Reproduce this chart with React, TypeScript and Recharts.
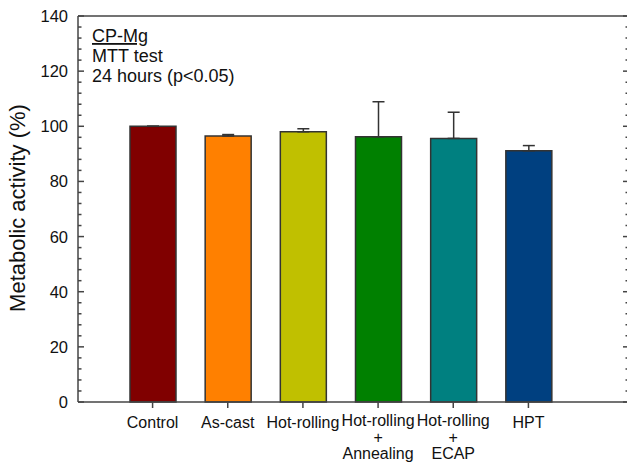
import { Bar, BarChart, Cell, ErrorBar, ReferenceLine, XAxis, YAxis } from "recharts";

const categories = [
  "Control",
  "As-cast",
  "Hot-rolling",
  "Hot-rolling\n+\nAnnealing",
  "Hot-rolling\n+\nECAP",
  "HPT",
];
const activity = [100, 96.5, 98.0, 96.2, 95.6, 91.1];
const errorUp = [0, 0.5, 1.1, 12.7, 9.5, 1.9];
const barColors = ["#800000", "#ff8000", "#c0c000", "#008000", "#008080", "#004080"];
const yTicks = Array.from({ length: 36 }, (_, i) => i * 4);
const notes = ["CP-Mg", "MTT test", "24 hours (p<0.05)"];

const data = categories.map((name, i) => ({
  name,
  value: activity[i],
  err: [0, errorUp[i]],
}));

const AXIS = "#444";
const FONT = "'Liberation Sans', Arial, sans-serif";
const PLOT_LEFT = 78;
const PLOT_RIGHT = 629;

const XTick = (props: any) => {
  const { x, y, payload } = props;
  const lines = String(payload.value).split("\n");
  return (
    <text x={x} y={y} textAnchor="middle" fontSize={16} fontFamily={FONT} fill="#111">
      {lines.map((l, i) => (
        <tspan key={i} x={x} dy={i === 0 ? (lines.length === 1 ? 18 : 16) : 16.5}>
          {l}
        </tspan>
      ))}
    </text>
  );
};

// left labels + inward ticks on both sides of the frame
const YTick = (props: any) => {
  const { y, payload } = props;
  const major = payload.value % 20 === 0;
  const len = major ? 6 : 3.5;
  return (
    <g>
      <line x1={PLOT_LEFT} x2={PLOT_LEFT + len} y1={y} y2={y} stroke={AXIS} strokeWidth={1.5} />
      <line x1={PLOT_RIGHT} x2={PLOT_RIGHT - len} y1={y} y2={y} stroke={AXIS} strokeWidth={1.5} />
      {major && (
        <text x={PLOT_LEFT - 10} y={y} dy={6} textAnchor="end" fontSize={16.5} fontFamily={FONT} fill="#111">
          {payload.value}
        </text>
      )}
    </g>
  );
};

const App = () => {
  return (
    <div style={{ position: "absolute", left: 0, top: 0, width: 627, height: 465, overflow: "hidden", background: "#fff" }}>
      <BarChart width={640} height={465} data={data} margin={{ top: 16, right: 640 - PLOT_RIGHT, bottom: 0, left: 0 }}>
        <XAxis
          dataKey="name"
          interval={0}
          height={63}
          padding={{ left: 37, right: 63 }}
          tick={<XTick />}
          tickLine={{ stroke: AXIS, strokeWidth: 1.5 }}
          tickSize={6}
          tickMargin={2}
          axisLine={{ stroke: AXIS, strokeWidth: 1.5 }}
        />
        <YAxis
          width={PLOT_LEFT}
          domain={[0, 140]}
          ticks={yTicks}
          interval={0}
          tickLine={false}
          tick={<YTick />}
          axisLine={{ stroke: AXIS, strokeWidth: 1.5 }}
        />
        <ReferenceLine y={140} stroke={AXIS} strokeWidth={1.5} />
        <Bar dataKey="value" barSize={46} stroke="#333" strokeWidth={1.5} isAnimationActive={false}>
          {data.map((d, i) => (
            <Cell key={d.name} fill={barColors[i]} />
          ))}
          <ErrorBar dataKey="err" width={6} stroke="#333" strokeWidth={1.5} direction="y" />
        </Bar>
      </BarChart>
      <svg width={627} height={465} style={{ position: "absolute", left: 0, top: 0, pointerEvents: "none" }}>
        <text
          x={17}
          y={208}
          textAnchor="middle"
          dominantBaseline="central"
          fontSize={22}
          fontFamily={FONT}
          fill="#111"
          transform="rotate(-90 17 208)"
        >
          Metabolic activity (%)
        </text>
        {notes.map((n, i) => (
          <text
            key={n}
            x={92}
            y={42 + i * 20}
            fontSize={18}
            fontFamily={FONT}
            fill="#111"
            textDecoration={i === 0 ? "underline" : undefined}
          >
            {n}
          </text>
        ))}
      </svg>
    </div>
  );
};

export default App;
